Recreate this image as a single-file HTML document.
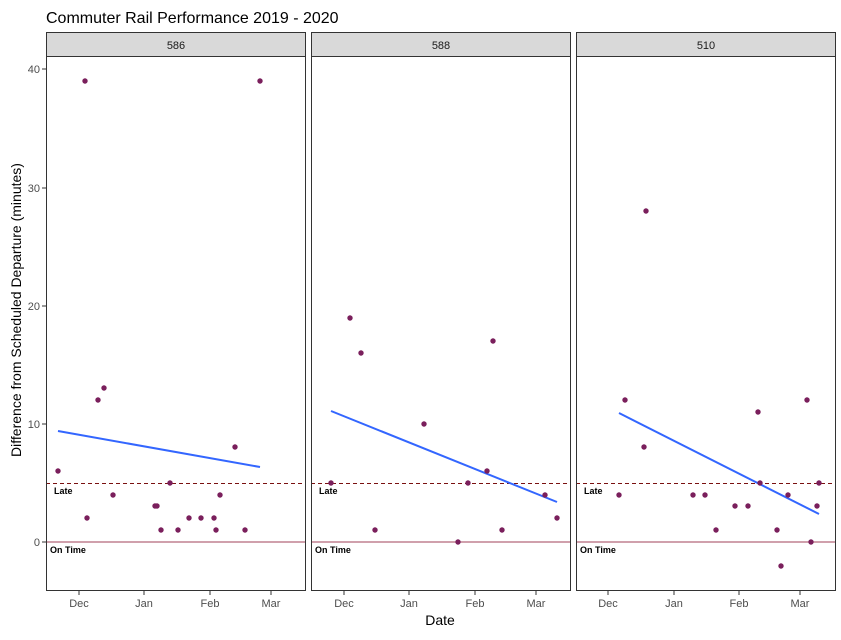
<!DOCTYPE html>
<html><head><style>body{margin:0;background:#fff}</style></head><body>
<svg width="841" height="635" xmlns="http://www.w3.org/2000/svg" font-family="Liberation Sans, sans-serif">
<rect width="841" height="635" fill="#fff"/>
<text x="46" y="23" font-size="16" fill="#000">Commuter Rail Performance 2019 - 2020</text>
<text transform="translate(21,310) rotate(-90)" text-anchor="middle" font-size="14">Difference from Scheduled Departure (minutes)</text>
<text x="440" y="625" text-anchor="middle" font-size="14">Date</text>
<g font-size="11" fill="#4d4d4d" text-anchor="end">
<text x="40" y="546">0</text><text x="40" y="428">10</text><text x="40" y="310">20</text><text x="40" y="192">30</text><text x="40" y="73">40</text>
</g>
<g stroke="#333"><line x1="42" x2="46" y1="542" y2="542"/><line x1="42" x2="46" y1="424" y2="424"/><line x1="42" x2="46" y1="306" y2="306"/><line x1="42" x2="46" y1="188" y2="188"/><line x1="42" x2="46" y1="69" y2="69"/></g>
<!-- panels -->
<g id="p">
<rect x="46.5" y="32.5" width="259" height="24" fill="#d9d9d9" stroke="#333"/>
<rect x="311.5" y="32.5" width="259" height="24" fill="#d9d9d9" stroke="#333"/>
<rect x="576.5" y="32.5" width="259" height="24" fill="#d9d9d9" stroke="#333"/>
<g font-size="11" fill="#1a1a1a" text-anchor="middle"><text x="176" y="49">586</text><text x="441" y="49">588</text><text x="706" y="49">510</text></g>
<line x1="46" x2="306" y1="542" y2="542" stroke="#a0405a"/>
<line x1="311" x2="571" y1="542" y2="542" stroke="#a0405a"/>
<line x1="576" x2="836" y1="542" y2="542" stroke="#a0405a"/>
<g stroke="#7a1010" stroke-dasharray="4,3"><line x1="46" x2="306" y1="483.5" y2="483.5"/><line x1="311" x2="571" y1="483.5" y2="483.5"/><line x1="576" x2="836" y1="483.5" y2="483.5"/></g>
<g font-size="9" font-weight="bold" fill="#000"><text x="54" y="494">Late</text><text x="319" y="494">Late</text><text x="584" y="494">Late</text>
<text x="50" y="553">On Time</text><text x="315" y="553">On Time</text><text x="580" y="553">On Time</text></g>
<g stroke="#3366ff" stroke-width="2"><line x1="58" y1="431" x2="260" y2="467"/><line x1="331" y1="411" x2="557" y2="502"/><line x1="619" y1="413" x2="819" y2="514"/></g>
<g fill="#7a1f5c">
<circle cx="58" cy="471" r="2.7"/><circle cx="85" cy="81" r="2.7"/><circle cx="87" cy="518" r="2.7"/><circle cx="98" cy="400" r="2.7"/><circle cx="104" cy="388" r="2.7"/><circle cx="113" cy="495" r="2.7"/><circle cx="155" cy="506" r="2.7"/><circle cx="157" cy="506" r="2.7"/><circle cx="161" cy="530" r="2.7"/><circle cx="170" cy="483" r="2.7"/><circle cx="178" cy="530" r="2.7"/><circle cx="189" cy="518" r="2.7"/><circle cx="201" cy="518" r="2.7"/><circle cx="214" cy="518" r="2.7"/><circle cx="216" cy="530" r="2.7"/><circle cx="220" cy="495" r="2.7"/><circle cx="235" cy="447" r="2.7"/><circle cx="245" cy="530" r="2.7"/><circle cx="260" cy="81" r="2.7"/>
<circle cx="331" cy="483" r="2.7"/><circle cx="350" cy="318" r="2.7"/><circle cx="361" cy="353" r="2.7"/><circle cx="375" cy="530" r="2.7"/><circle cx="424" cy="424" r="2.7"/><circle cx="458" cy="542" r="2.7"/><circle cx="468" cy="483" r="2.7"/><circle cx="487" cy="471" r="2.7"/><circle cx="493" cy="341" r="2.7"/><circle cx="502" cy="530" r="2.7"/><circle cx="545" cy="495" r="2.7"/><circle cx="557" cy="518" r="2.7"/>
<circle cx="619" cy="495" r="2.7"/><circle cx="625" cy="400" r="2.7"/><circle cx="644" cy="447" r="2.7"/><circle cx="646" cy="211" r="2.7"/><circle cx="693" cy="495" r="2.7"/><circle cx="705" cy="495" r="2.7"/><circle cx="716" cy="530" r="2.7"/><circle cx="735" cy="506" r="2.7"/><circle cx="748" cy="506" r="2.7"/><circle cx="758" cy="412" r="2.7"/><circle cx="760" cy="483" r="2.7"/><circle cx="777" cy="530" r="2.7"/><circle cx="781" cy="566" r="2.7"/><circle cx="788" cy="495" r="2.7"/><circle cx="807" cy="400" r="2.7"/><circle cx="811" cy="542" r="2.7"/><circle cx="817" cy="506" r="2.7"/><circle cx="819" cy="483" r="2.7"/>
</g>
<g fill="none" stroke="#333"><rect x="46.5" y="56.5" width="259" height="534"/><rect x="311.5" y="56.5" width="259" height="534"/><rect x="576.5" y="56.5" width="259" height="534"/></g>
<g stroke="#333">
<line x1="79" x2="79" y1="591" y2="595"/><line x1="144" x2="144" y1="591" y2="595"/><line x1="210" x2="210" y1="591" y2="595"/><line x1="271" x2="271" y1="591" y2="595"/>
<line x1="344" x2="344" y1="591" y2="595"/><line x1="409" x2="409" y1="591" y2="595"/><line x1="475" x2="475" y1="591" y2="595"/><line x1="536" x2="536" y1="591" y2="595"/>
<line x1="608" x2="608" y1="591" y2="595"/><line x1="674" x2="674" y1="591" y2="595"/><line x1="739" x2="739" y1="591" y2="595"/><line x1="800" x2="800" y1="591" y2="595"/>
</g>
<g font-size="11" fill="#4d4d4d" text-anchor="middle">
<text x="79" y="607">Dec</text><text x="144" y="607">Jan</text><text x="210" y="607">Feb</text><text x="271" y="607">Mar</text>
<text x="344" y="607">Dec</text><text x="409" y="607">Jan</text><text x="475" y="607">Feb</text><text x="536" y="607">Mar</text>
<text x="608" y="607">Dec</text><text x="674" y="607">Jan</text><text x="739" y="607">Feb</text><text x="800" y="607">Mar</text>
</g>
</g>
</svg>
</body></html>
